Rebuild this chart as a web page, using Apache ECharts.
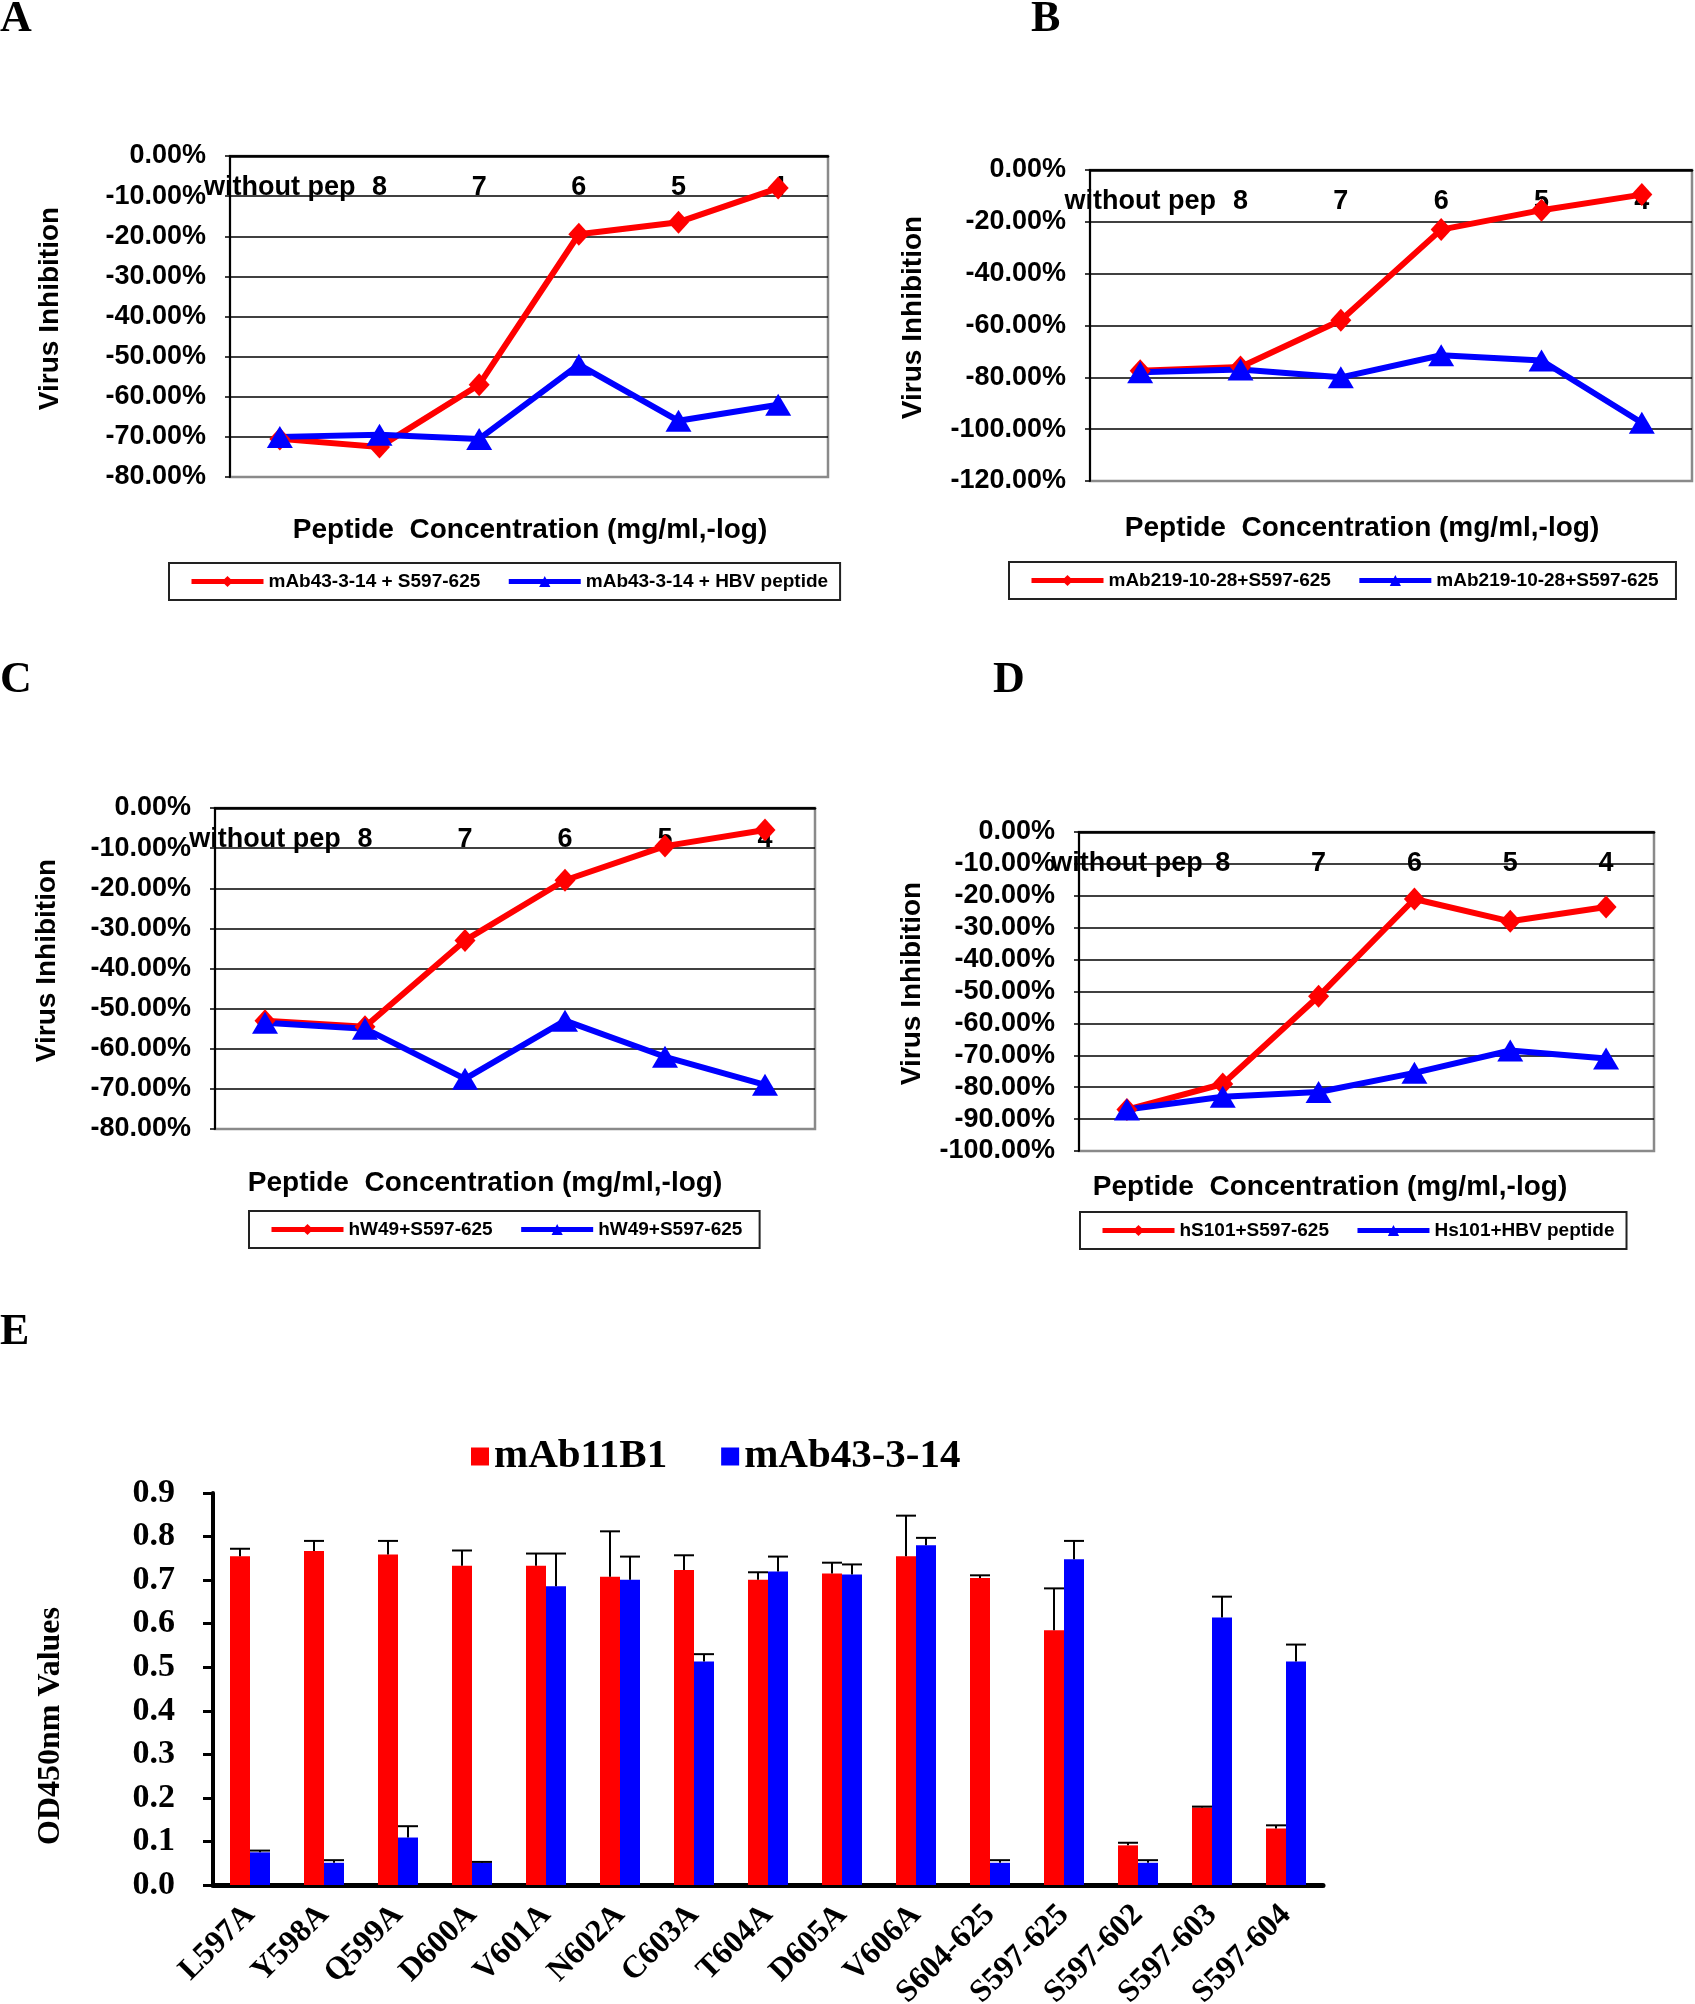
<!DOCTYPE html>
<html>
<head>
<meta charset="utf-8">
<script src="https://cdn.jsdelivr.net/npm/echarts@6/dist/echarts.min.js"></script>
<style>
  html, body { margin: 0; padding: 0; background: #fff; }
  #main { width: 1695px; height: 2004px; }
</style>
</head>
<body>
<div id="main"></div>
<script>
// x categories of the four inhibition panels
var concCats = ['without pep', '8', '7', '6', '5', '4'];

// panel A
var redA = [-70.5, -72.5, -57, -19.5, -16.5, -8];
var blueA = [-70, -69.5, -70.5, -52, -66, -62];
// panel B
var redB = [-77.5, -76, -58, -23, -15.5, -9.5];
var blueB = [-78, -77, -80, -71.5, -73.5, -97.5];
// panel C
var redC = [-53, -54.5, -33, -18, -9.5, -5.5];
var blueC = [-53.5, -55, -67.5, -53, -62, -69];
// panel D
var redD = [-87, -79, -51.5, -21, -28, -23.5];
var blueD = [-87, -83, -81.5, -75.5, -68.5, -71];

// panel E
var peptides = ['L597A', 'Y598A', 'Q599A', 'D600A', 'V601A', 'N602A', 'C603A', 'T604A',
  'D605A', 'V606A', 'S604-625', 'S597-625', 'S597-602', 'S597-603', 'S597-604'];
var od11B1 = [0.755, 0.767, 0.759, 0.733, 0.733, 0.708, 0.723, 0.701, 0.715, 0.755, 0.705, 0.585, 0.091, 0.178, 0.130];
var err11B1 = [0.017, 0.023, 0.031, 0.035, 0.028, 0.104, 0.034, 0.017, 0.025, 0.093, 0.006, 0.096, 0.006, 0.002, 0.007];
var od43 = [0.075, 0.051, 0.109, 0.051, 0.686, 0.701, 0.513, 0.720, 0.713, 0.780, 0.051, 0.748, 0.051, 0.614, 0.513];
var err43 = [0.004, 0.006, 0.026, 0.002, 0.075, 0.053, 0.017, 0.034, 0.023, 0.017, 0.006, 0.042, 0.006, 0.048, 0.039];

var SANS = 'Liberation Sans';
var SERIF = 'Liberation Serif';

var panels = [
  { grid: [230, 156, 598, 321], min: -80, step: 10, red: redA, blue: blueA,
    names: ['mAb43-3-14 + S597-625', 'mAb43-3-14 + HBV peptide'], legend: [169, 563], gap: 166 },
  { grid: [1090, 170, 602, 311], min: -120, step: 20, red: redB, blue: blueB,
    names: ['mAb219-10-28+S597-625', 'mAb219-10-28+S597-625 '], legend: [1009, 562], gap: 163 },
  { grid: [215, 808, 600, 321], min: -80, step: 10, red: redC, blue: blueC,
    names: ['hW49+S597-625', 'hW49+S597-625 '], legend: [249, 1211], gap: 154 },
  { grid: [1079, 832, 575, 319], min: -100, step: 10, red: redD, blue: blueD,
    names: ['hS101+S597-625', 'Hs101+HBV peptide'], legend: [1080, 1212], gap: 153 }
];

var grids = [], xAxes = [], yAxes = [], series = [], legends = [];

panels.forEach(function (p, i) {
  grids.push({ left: p.grid[0], top: p.grid[1], width: p.grid[2], height: p.grid[3],
    containLabel: false, outerBoundsMode: 'none',
    show: true, borderColor: '#8a8a8a', borderWidth: 2.5, backgroundColor: 'transparent' });
  xAxes.push({ type: 'category', gridIndex: i, data: concCats, position: 'top',
    axisLine: { onZero: false, lineStyle: { color: '#000', width: 2.5 } },
    axisTick: { show: false },
    axisLabel: { inside: true, interval: 0, margin: 18, color: '#000',
      fontFamily: SANS, fontWeight: 'bold', fontSize: 27 } });
  yAxes.push({ type: 'value', gridIndex: i, min: p.min, max: 0, interval: p.step,
    name: 'Virus Inhibition', nameLocation: 'middle', nameRotate: 90, nameGap: p.gap,
    nameTextStyle: { fontFamily: SANS, fontWeight: 'bold', fontSize: 28, color: '#000', padding: [0, 0, 0, 16] },
    axisLine: { show: true, lineStyle: { color: '#000', width: 2 } },
    axisTick: { show: true, length: 5, lineStyle: { color: '#000', width: 1.5 } },
    splitLine: { show: true, showMinLine: false, lineStyle: { color: '#000', width: 1.5 } },
    axisLabel: { margin: 24, color: '#000', fontFamily: SANS, fontWeight: 'bold', fontSize: 27,
      formatter: function (v) { return (v === 0 ? 0 : v).toFixed(2) + '%'; } } });
  series.push({ name: p.names[0], type: 'line', xAxisIndex: i, yAxisIndex: i, data: p.red,
    symbol: 'diamond', symbolSize: [21, 23], color: '#ff0000',
    lineStyle: { width: 6, color: '#ff0000' }, itemStyle: { color: '#ff0000' } });
  series.push({ name: p.names[1], type: 'line', xAxisIndex: i, yAxisIndex: i, data: p.blue,
    symbol: 'triangle', symbolSize: [26, 22], color: '#0000ff',
    lineStyle: { width: 6, color: '#0000ff' }, itemStyle: { color: '#0000ff' } });
  legends.push({ data: p.names, left: p.legend[0], top: p.legend[1], orient: 'horizontal',
    itemWidth: 72, itemHeight: 14, itemGap: 26, padding: [9, 12, 9, 20],
    borderColor: '#222', borderWidth: 2, selectedMode: false,
    lineStyle: { width: 5 },
    textStyle: { fontFamily: SANS, fontWeight: 'bold', fontSize: 19, color: '#000' } });
});

// panel E
grids.push({ left: 213, top: 1493, width: 1110, height: 392, containLabel: false, outerBoundsMode: 'none' });
xAxes.push({ type: 'category', gridIndex: 4, data: peptides,
  axisLine: { lineStyle: { color: '#000', width: 5 } },
  axisTick: { show: false },
  axisLabel: { interval: 0, rotate: 45, margin: 25, color: '#000',
    fontFamily: SERIF, fontWeight: 'bold', fontSize: 32 } });
yAxes.push({ type: 'value', gridIndex: 4, min: 0, max: 0.9, interval: 0.1,
  name: 'OD450nm Values', nameLocation: 'middle', nameRotate: 90, nameGap: 146,
  nameTextStyle: { fontFamily: SERIF, fontWeight: 'bold', fontSize: 32, color: '#000', padding: [0, 74, 0, 0] },
  axisLine: { show: true, lineStyle: { color: '#000', width: 4 } },
  axisTick: { show: true, length: 10, lineStyle: { color: '#000', width: 3 } },
  splitLine: { show: false },
  axisLabel: { margin: 38, color: '#000', fontFamily: SERIF, fontWeight: 'bold', fontSize: 34,
    formatter: function (v) { return v.toFixed(1); } } });

function errorBar(offset) {
  return function (params, api) {
    var i = api.value(0), v = api.value(1), e = api.value(2);
    var base = api.coord([i, v]);
    var top = api.coord([i, v + e]);
    var x = base[0] + offset;
    var st = { stroke: '#000', lineWidth: 2 };
    return { type: 'group', children: [
      { type: 'line', shape: { x1: x, y1: base[1], x2: x, y2: top[1] }, style: st },
      { type: 'line', shape: { x1: x - 10, y1: top[1], x2: x + 10, y2: top[1] }, style: st }
    ] };
  };
}

series.push({ name: 'mAb11B1', type: 'bar', xAxisIndex: 4, yAxisIndex: 4, data: od11B1,
  barWidth: 20, barGap: '0%', itemStyle: { color: '#ff0000' } });
series.push({ name: 'mAb43-3-14', type: 'bar', xAxisIndex: 4, yAxisIndex: 4, data: od43,
  barWidth: 20, barGap: '0%', itemStyle: { color: '#0000ff' } });
series.push({ name: 'err11B1', type: 'custom', xAxisIndex: 4, yAxisIndex: 4, z: 3,
  renderItem: errorBar(-10), encode: { x: 0, y: 1 },
  data: od11B1.map(function (v, i) { return [i, v, err11B1[i]]; }) });
series.push({ name: 'err43', type: 'custom', xAxisIndex: 4, yAxisIndex: 4, z: 3,
  renderItem: errorBar(10), encode: { x: 0, y: 1 },
  data: od43.map(function (v, i) { return [i, v, err43[i]]; }) });

legends.push({ data: ['mAb11B1', 'mAb43-3-14'], left: 471, top: 1436, icon: 'rect',
  itemWidth: 18, itemHeight: 18, itemGap: 54, padding: 0, selectedMode: false,
  textStyle: { fontFamily: SERIF, fontWeight: 'bold', fontSize: 41, color: '#000' } });

// panel letters and x titles
var letters = [['A', 0, -2], ['B', 1031, -2], ['C', 0, 659], ['D', 993, 659], ['E', 0, 1311]];
var xTitles = [[530, 530], [1362, 528], [485, 1183], [1330, 1187]];
var graphics = [];
letters.forEach(function (l) {
  graphics.push({ type: 'text', x: l[1], y: l[2],
    style: { text: l[0], font: 'bold 44px "' + SERIF + '"', fill: '#000' } });
});
xTitles.forEach(function (t) {
  graphics.push({ type: 'text', x: t[0], y: t[1],
    style: { text: 'Peptide  Concentration (mg/ml,-log)', font: 'bold 28px "' + SANS + '"',
      fill: '#000', align: 'center', verticalAlign: 'middle' } });
});

var myChart = echarts.init(document.getElementById('main'), null, { renderer: 'canvas' });
myChart.setOption({
  animation: false,
  backgroundColor: '#fff',
  grid: grids,
  xAxis: xAxes,
  yAxis: yAxes,
  legend: legends,
  series: series,
  graphic: graphics
});
</script>
</body>
</html>
